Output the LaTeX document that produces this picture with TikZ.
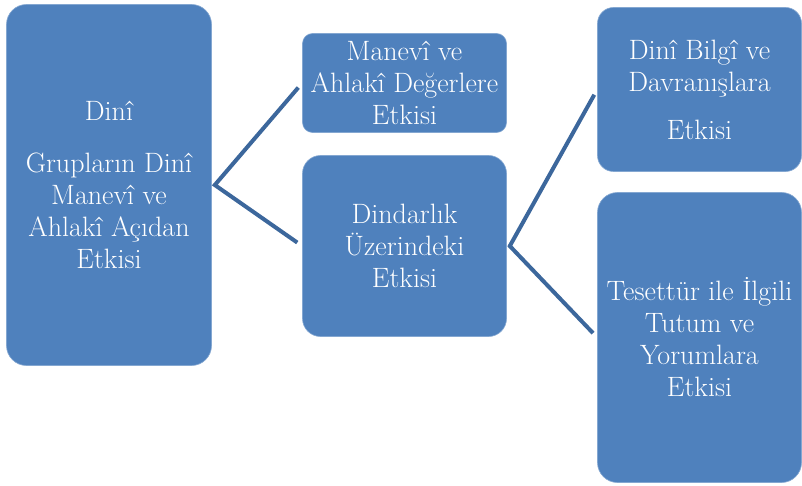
\documentclass[tikz,border=0pt]{standalone}
\usepackage{tikz}
\definecolor{boxblue}{HTML}{4F81BD}
\definecolor{linkblue}{HTML}{3C679C}

\begin{document}
\begin{tikzpicture}[x=1pt,y=-1pt,
  box/.style={draw=boxblue!70!white, line width=0.6pt, fill=boxblue, text=white,
    align=center, inner sep=0pt, font=\fontsize{28}{32}\selectfont},
  link/.style={draw=linkblue, line width=4pt, shorten <=6pt, shorten >=6pt}]
\useasboundingbox (0,0) rectangle (802,486);
\node (grp) [box, rounded corners=20, minimum width=205, minimum height=361] at (109,185)
  {Dinî\\[20pt]Grupların Dinî\\Manevî ve\\Ahlakî Açıdan\\Etkisi};
\node (manevi) [box, rounded corners=10, minimum width=204, minimum height=99] at (404.5,83)
  {Manevî ve\\Ahlakî Değerlere\\Etkisi};
\node (dindar) [box, rounded corners=18, minimum width=204, minimum height=181] at (404.5,246)
  {Dindarlık\\Üzerindeki\\Etkisi};
\node (bilgi) [box, rounded corners=16, minimum width=204, minimum height=164] at (699.5,89.5)
  {Dinî Bilgî ve\\Davranışlara\\[16pt]Etkisi};
\node (tesettur) [box, rounded corners=20, minimum width=204, minimum height=290] at (699.5,337.5)
  {Tesettür ile İlgili\\Tutum ve\\Yorumlara\\Etkisi};
\draw[link] (manevi.west) -- ([xshift=3pt]grp.east) -- (dindar.west);
\draw[link] (bilgi.west) -- ([xshift=3pt]dindar.east) -- (tesettur.west);
\end{tikzpicture}
\end{document}
